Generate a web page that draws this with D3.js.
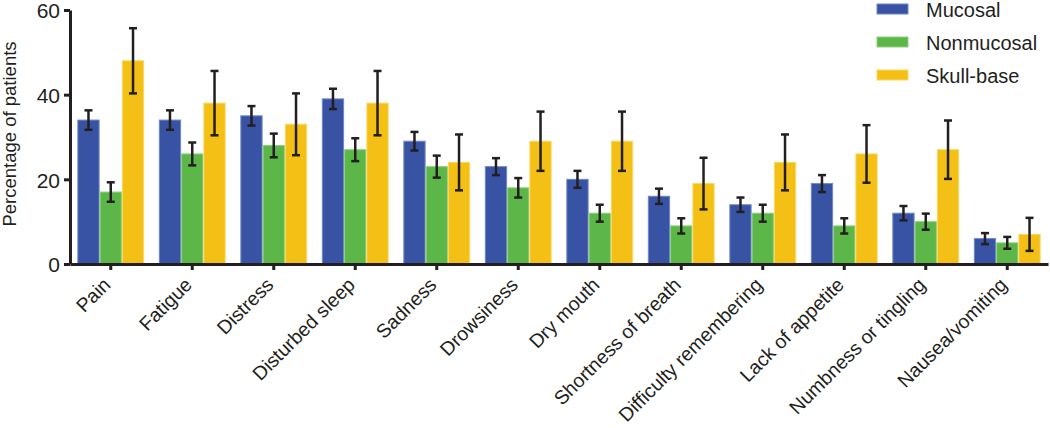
<!DOCTYPE html>
<html>
<head>
<meta charset="utf-8">
<script src="https://cdn.jsdelivr.net/npm/d3@7"></script>
<style>
  body { margin: 0; background: #fff; }
  svg { font-family: "Liberation Sans", Arial, sans-serif; }
  .axis path, .axis line { stroke: #231f20; }
  .axis text { fill: #231f20; }
</style>
</head>
<body>
<svg width="1050" height="428"></svg>
<script>
// data
var symptoms = ['Pain', 'Fatigue', 'Distress', 'Disturbed sleep', 'Sadness', 'Drowsiness',
  'Dry mouth', 'Shortness of breath', 'Difficulty remembering', 'Lack of appetite',
  'Numbness or tingling', 'Nausea/vomiting'];
var groups = ['Mucosal', 'Nonmucosal', 'Skull-base'];

var mucosal    = [34, 34, 35, 39, 29, 23, 20, 16, 14, 19, 12, 6];
var nonmucosal = [17, 26, 28, 27, 23, 18, 12, 9, 12, 9, 10, 5];
var skullBase  = [48, 38, 33, 38, 24, 29, 29, 19, 24, 26, 27, 7];

var mucosalErr    = [2.3, 2.3, 2.3, 2.4, 2.2, 2.0, 2.0, 1.8, 1.7, 2.0, 1.7, 1.3];
var nonmucosalErr = [2.3, 2.7, 2.8, 2.7, 2.6, 2.3, 2.0, 1.8, 2.0, 1.8, 1.9, 1.4];
var skullBaseErr  = [7.7, 7.6, 7.3, 7.6, 6.6, 7.0, 7.0, 6.1, 6.6, 6.8, 6.9, 3.9];

var yTicks = [0, 20, 40, 60];

var fills   = ['#3953a4', '#5cb648', '#f4c016'];
var strokes = ['#6f86c6', '#8fd07e', '#f9d860'];

var series = [mucosal, nonmucosal, skullBase];
var errs = [mucosalErr, nonmucosalErr, skullBaseErr];

var rows = [];
symptoms.forEach(function(s, i) {
  groups.forEach(function(g, j) {
    rows.push({ symptom: s, group: g, gi: j, value: series[j][i], err: errs[j][i] });
  });
});

var svg = d3.select('svg');

var x = d3.scaleBand()
  .domain(symptoms)
  .range([70, 1048])
  .paddingInner(0.18)
  .paddingOuter(0.09);

var xSub = d3.scaleBand()
  .domain(groups)
  .range([0, x.bandwidth()]);

var y = d3.scaleLinear()
  .domain([0, 60])
  .range([264, 10]);

// bars
svg.append('g').selectAll('rect')
  .data(rows)
  .enter()
  .append('rect')
  .attr('x', d => x(d.symptom) + xSub(d.group) + 0.5)
  .attr('y', d => y(d.value))
  .attr('width', xSub.bandwidth() - 1)
  .attr('height', d => y(0) - y(d.value))
  .attr('fill', d => fills[d.gi])
  .attr('stroke', d => strokes[d.gi])
  .attr('stroke-width', 1);

// error bars
var eb = svg.append('g').selectAll('g')
  .data(rows)
  .enter()
  .append('g')
  .attr('stroke', '#231f20')
  .attr('stroke-width', 2.5);

eb.append('line')
  .attr('x1', d => x(d.symptom) + xSub(d.group) + xSub.bandwidth() / 2)
  .attr('x2', d => x(d.symptom) + xSub(d.group) + xSub.bandwidth() / 2)
  .attr('y1', d => y(d.value + d.err))
  .attr('y2', d => y(d.value - d.err));

[1, -1].forEach(function(sign) {
  eb.append('line')
    .attr('x1', d => x(d.symptom) + xSub(d.group) + xSub.bandwidth() / 2 - 4)
    .attr('x2', d => x(d.symptom) + xSub(d.group) + xSub.bandwidth() / 2 + 4)
    .attr('y1', d => y(d.value + sign * d.err))
    .attr('y2', d => y(d.value + sign * d.err));
});

// y axis
var yAxis = svg.append('g')
  .attr('class', 'axis')
  .attr('transform', 'translate(70,0)')
  .call(d3.axisLeft(y).tickValues(yTicks).tickSize(6).tickSizeOuter(0).tickPadding(4));
yAxis.select('.domain').attr('stroke-width', 3);
yAxis.selectAll('line').attr('stroke-width', 3);
yAxis.selectAll('text').attr('font-size', 21).attr('dy', '0.38em');

// x axis
var xAxis = svg.append('g')
  .attr('class', 'axis')
  .attr('transform', 'translate(0,264)')
  .call(d3.axisBottom(x).tickSize(6).tickSizeOuter(0));
xAxis.select('.domain').attr('stroke-width', 3);
xAxis.selectAll('line').attr('stroke-width', 3);
xAxis.selectAll('text')
  .attr('font-size', 19.5)
  .attr('text-anchor', 'end')
  .attr('dy', null)
  .attr('y', 0)
  .attr('transform', 'translate(1,22) rotate(-45)');

// y title
svg.append('text')
  .attr('transform', 'translate(16,134) rotate(-90)')
  .attr('text-anchor', 'middle')
  .attr('font-size', 18.5)
  .attr('fill', '#231f20')
  .text('Percentage of patients');

// legend
var legend = svg.append('g').selectAll('g')
  .data(groups)
  .enter()
  .append('g')
  .attr('transform', (d, i) => 'translate(877,' + (4 + i * 33) + ')');

legend.append('rect')
  .attr('width', 31)
  .attr('height', 10)
  .attr('fill', (d, i) => fills[i])
  .attr('stroke', (d, i) => strokes[i]);

legend.append('text')
  .attr('x', 49)
  .attr('y', 13)
  .attr('font-size', 20)
  .attr('fill', '#231f20')
  .text(d => d);
</script>
</body>
</html>
